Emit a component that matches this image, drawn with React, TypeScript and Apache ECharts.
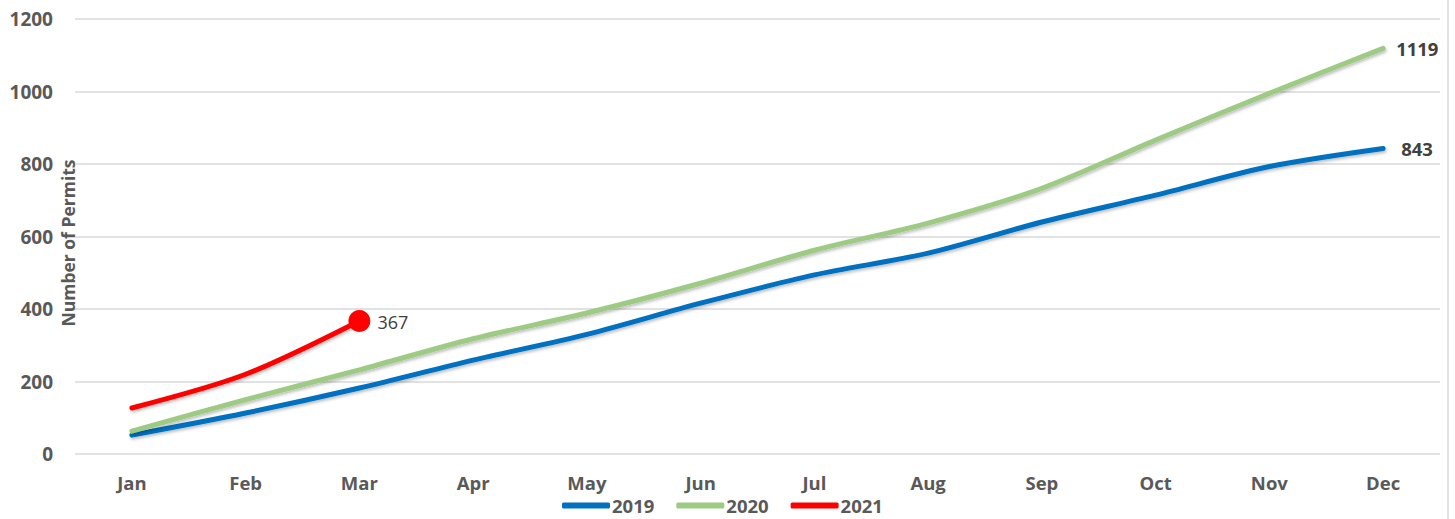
import React, { useEffect, useRef } from "react";
import * as echarts from "echarts";

const months = ["Jan", "Feb", "Mar", "Apr", "May", "Jun", "Jul", "Aug", "Sep", "Oct", "Nov", "Dec"];
const permits2019 = [52, 113, 182, 259, 330, 416, 494, 554, 640, 714, 793, 843];
const permits2020 = [63, 150, 232, 318, 389, 471, 562, 637, 733, 866, 995, 1119];
const permits2021 = [127, 220, 367];
const yTicks = { min: 0, max: 1200, interval: 200 };
const yAxisTitle = "Number of Permits";

const FONT = "'Open Sans', sans-serif";

export default function App() {
  const ref = useRef<HTMLDivElement>(null);
  useEffect(() => {
    if (!ref.current) return;
    const chart = echarts.init(ref.current, null, { renderer: "svg" });
    const shadow = { shadowColor: "rgba(0,0,0,0.25)", shadowBlur: 3, shadowOffsetX: 1, shadowOffsetY: 2 };
    chart.setOption({
      animation: false,
      backgroundColor: "#ffffff",
      grid: { left: 75, right: 15, top: 19, bottom: 65, containLabel: false, outerBoundsMode: "none" },
      legend: {
        left: 557,
        top: 491,
        itemWidth: 48,
        itemHeight: 6,
        itemGap: 22,
        icon: "roundRect",
        textStyle: { fontFamily: FONT, fontWeight: "bold", fontSize: 18.5, color: "#595959", padding: [0, 0, 0, -3] },
        data: ["2019", "2020", "2021"],
      },
      xAxis: {
        type: "category",
        data: months,
        boundaryGap: true,
        axisLine: { show: false },
        axisTick: { show: false },
        axisLabel: { fontFamily: FONT, fontWeight: "bold", fontSize: 18.5, color: "#595959", margin: 19 },
      },
      yAxis: {
        type: "value",
        min: yTicks.min,
        max: yTicks.max,
        interval: yTicks.interval,
        axisLine: { show: false },
        axisTick: { show: false },
        splitLine: { lineStyle: { color: "#D9D9D9", width: 1.5 } },
        axisLabel: {
          fontFamily: FONT,
          fontWeight: "bold",
          fontSize: 19,
          color: "#595959",
          margin: 22,
          formatter: (v: number) => String(v),
        },
      },
      series: [
        {
          name: "2019",
          type: "line",
          smooth: 0.3,
          showSymbol: false,
          symbol: "none",
          color: "#0070C0",
          lineStyle: { width: 5, color: "#0070C0", cap: "round", ...shadow },
          endLabel: {
            show: true,
            distance: 18,
            fontFamily: FONT,
            fontWeight: "bold",
            fontSize: 18.5,
            color: "#404040",
            formatter: (p: any) => String(p.value),
          },
          data: permits2019,
        },
        {
          name: "2020",
          type: "line",
          smooth: 0.3,
          showSymbol: false,
          symbol: "none",
          color: "#9DCB84",
          lineStyle: { width: 5, color: "#9DCB84", cap: "round", ...shadow },
          endLabel: {
            show: true,
            distance: 13,
            fontFamily: FONT,
            fontWeight: "bold",
            fontSize: 18.5,
            color: "#404040",
            formatter: (p: any) => String(p.value),
          },
          data: permits2020,
        },
        {
          name: "2021",
          type: "line",
          smooth: 0.3,
          symbol: "circle",
          showSymbol: true,
          symbolSize: (_v: any, p: any) => (p.dataIndex === permits2021.length - 1 ? 22 : 0),
          color: "#FF0000",
          itemStyle: { color: "#FF0000" },
          lineStyle: { width: 5, color: "#FF0000", cap: "round", ...shadow },
          endLabel: {
            show: true,
            distance: 18,
            offset: [0, 1],
            fontFamily: FONT,
            fontSize: 18,
            color: "#404040",
            formatter: (p: any) => String(p.value),
          },
          data: permits2021,
        },
      ],
      graphic: [
        {
          type: "text",
          x: 68,
          y: 243,
          rotation: Math.PI / 2,
          style: {
            text: yAxisTitle,
            fontFamily: FONT,
            fontWeight: "bold",
            fontSize: 17.5,
            fill: "#595959",
            align: "center",
            verticalAlign: "middle",
          },
        },
        {
          type: "line",
          shape: { x1: 1448, y1: 0, x2: 1448, y2: 519 },
          style: { stroke: "#D9D9D9", lineWidth: 1.5 },
        },
      ],
    });
    return () => chart.dispose();
  }, []);
  return (
    <div
      ref={ref}
      style={{ position: "fixed", left: 0, top: 0, width: 1455, height: 519 }}
    />
  );
}
